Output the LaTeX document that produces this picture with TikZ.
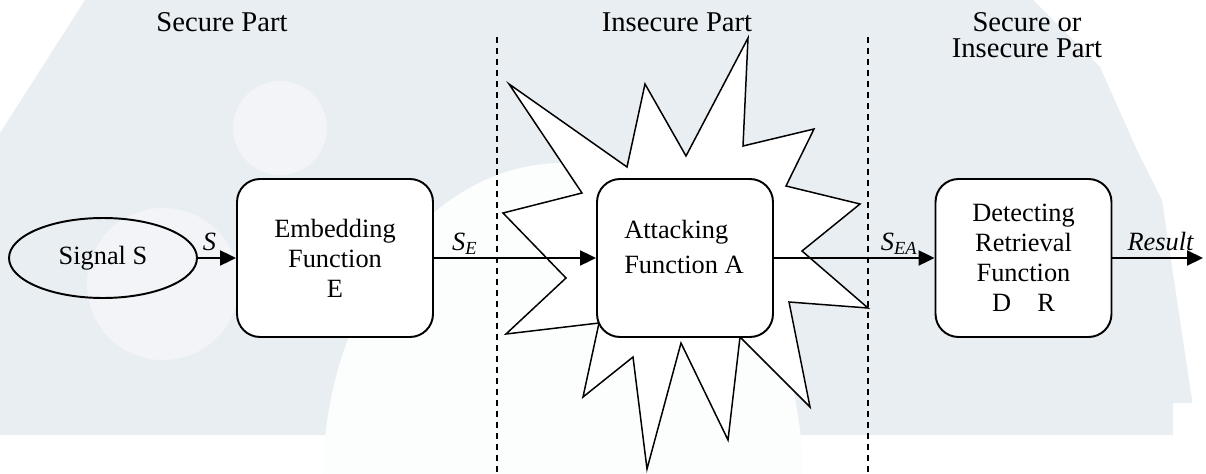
\documentclass[tikz,border=0pt]{standalone}
\usepackage{fontspec}
\setmainfont{Liberation Serif}
\usetikzlibrary{arrows.meta}
\usetikzlibrary{shapes.geometric}

\definecolor{wmshade}{RGB}{233,238,243}
\definecolor{wmlight}{RGB}{242,244,247}
\definecolor{wmwhite}{RGB}{252,253,253}

\tikzset{
  fnbox/.style={draw, fill=white, line width=1.1pt, rounded corners=0.46cm,
    minimum width=3.52cm, minimum height=3.16cm, inner sep=0pt, align=center,
    font=\fontsize{15}{17.07}\selectfont},
  flow/.style={line width=1.2pt, -{Triangle[length=0.32cm,width=0.3cm]}},
  flowlabel/.style={font=\fontsize{15}{17}\selectfont\itshape, anchor=base,
    yshift=0.15cm, inner sep=0pt},
  partline/.style={line width=1pt, dash pattern=on 0.12cm off 0.1cm},
  parttitle/.style={font=\fontsize{16.3}{14.8}\selectfont, align=center, inner sep=1pt}
}
\newcommand{\sigsub}[2]{#1\textsubscript{#2}}

\begin{document}
\begin{tikzpicture}[x=0.02cm, y=-0.02cm]
\useasboundingbox (0,0) rectangle (1206,473);

% faint backdrop
\fill[wmshade] (85,0) -- (1033,0) -- (1100,67) -- (1137,150) -- (1162,200) -- (1192,400)
  -- (1192,403) -- (1173,403) -- (1173,435) -- (0,435) -- (0,133) -- cycle;
\fill[wmwhite] (563,480) ellipse [x radius=240, y radius=317];
\fill[wmlight] (280,128) circle [radius=47];
\fill[wmlight] (163,284) circle [radius=76];

% part borders
\coordinate (sepAtop) at (497,37);
\coordinate (sepAbot) at (497,473);
\coordinate (sepBtop) at (868,37);
\coordinate (sepBbot) at (868,473);
\draw[partline] (sepAtop) -- (sepAbot);
\draw[partline] (sepBtop) -- (sepBbot);

\node[parttitle] (ttlsec) at (222,22) {Secure Part};
\node[parttitle] (ttlins) at (677,22) {Insecure Part};
\node[parttitle] (ttlany) at (1027,35) {Secure or\\Insecure Part};

% attack burst
\filldraw[fill=white, line width=0.85pt] (509,84) -- (627,167) -- (645,84) -- (686,156)
  -- (748,38) -- (743,146) -- (814,129) -- (786,186) -- (860,204) -- (802,251)
  -- (868,308) -- (789,302) -- (810,407) -- (740,337) -- (728,440) -- (681,343)
  -- (647,469) -- (633,357) -- (583,397) -- (599,323) -- (506,334) -- (566,278)
  -- (503,213) -- (582,193) -- cycle;

\node[draw, ellipse, line width=1.1pt, minimum width=3.76cm, minimum height=1.6cm,
  inner sep=0pt, font=\fontsize{15}{17}\selectfont] (sig) at (103,258) {Signal S};
\node[fnbox, minimum width=3.92cm] (emb) at (335,258) {Embedding\\Function\\E};
\node[fnbox] (atk) at (685,258) {};
\node[align=left, font=\fontsize{15}{17.07}\selectfont] (atktxt) at (684,247)
  {Attacking\\[0.1cm]Function A};
\node[fnbox] (dtr) at (1023.5,258) {Detecting\\Retrieval\\Function\\D\quad R};
\coordinate (res) at (1203,258);

\draw[flow] (sig) -- node[flowlabel, pos=0.3] (lblS) {S} (emb);
\draw[flow] (emb) -- node[flowlabel, pos=0.19] (lblSE) {\sigsub{S}{E}} (atk);
\draw[flow] (atk) -- node[flowlabel, pos=0.78] (lblSEA) {\sigsub{S}{EA}} (dtr);
\draw[flow] (dtr) -- node[flowlabel, pos=0.53] (lblres) {Result} (res);
\end{tikzpicture}
\end{document}
